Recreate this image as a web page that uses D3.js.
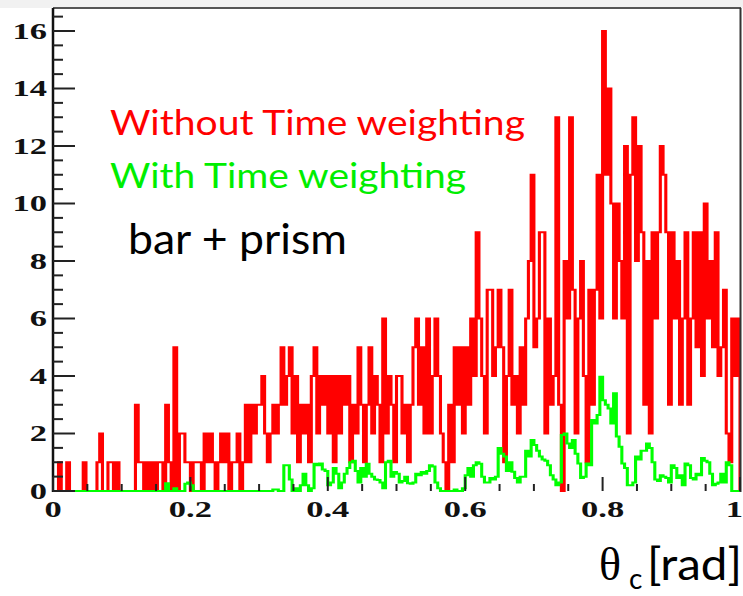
<!DOCTYPE html>
<html>
<head>
<meta charset="utf-8">
<script src="https://cdn.jsdelivr.net/npm/d3@7"></script>
<style>
  html, body { margin: 0; padding: 0; background: #ffffff; }
  svg { display: block; }
</style>
</head>
<body>
<svg id="chart" width="743" height="596"></svg>
<script>
// Cherenkov angle histograms, 250 bins over [0, 1] rad
const binCount = 250;
const xDomain = [0, 1];
const yDomain = [0, 16.8];

// Entries per bin, no time weighting
const withoutWeighting = [
  0,0,1,0,0,1,0,0,0,0,
  0,1,0,0,0,0,1,2,0,0,
  1,1,0,1,0,0,0,0,0,0,
  3,1,1,0,1,0,1,0,1,1,
  0,3,1,0,5,0,2,2,1,1,
  0,1,1,1,0,2,1,2,1,0,
  1,2,1,2,0,1,1,2,0,1,
  3,1,3,2,3,3,4,2,1,2,
  3,2,3,5,3,4,5,2,4,1,
  3,2,3,1,4,5,2,4,3,4,
  2,4,1,4,2,4,3,4,1,3,
  2,5,3,1,3,5,2,4,3,1,
  6,2,4,3,1,4,4,2,3,1,
  3,5,6,3,5,2,6,2,4,6,
  4,2,1,0,3,1,5,3,5,2,
  5,3,6,4,9,6,4,2,7,7,
  4,5,7,5,1,4,7,3,4,2,
  5,3,6,8,11,5,6,9,9,2,
  6,3,4,13,3,0,8,6,13,7,
  2,6,8,4,1,7,3,7,11,6,
  16,11,14,10,6,10,8,6,12,2,
  11,13,8,12,9,3,8,2,9,6,
  9,12,11,9,3,9,6,8,3,6,
  9,3,6,9,5,9,4,10,6,8,
  5,9,4,5,7,2,1,6,4,6
];

// Summed weights per bin, with time weighting
const withWeighting = [
  0,0,0,0,0,0,0,0,0,0,
  0,0,0,0,0,0,0,0,0,0,
  0,0,0,0,0,0,0,0,0,0,
  0,0,0,0,0,0,0,0,0,0,
  0,0.27,0,0,0.1,0,0,0,0.25,0.3,
  0.2,0,0,0,0,0,0,0,0,0,
  0,0,0,0,0,0,0,0,0,0,
  0,0,0,0,0,0,0,0,0,0,
  0.05,0.05,0,0,0.9,0.9,0.4,0,0.1,0,
  0.2,0.6,0.2,0,0.1,0.95,0.9,0.96,0.75,0.7,
  0.2,0.3,0.8,0.6,0.1,0.3,0.6,0.8,1.0,1.05,
  0.7,0.3,0.8,0.5,0.95,0.6,0.5,0.4,0.38,0.3,
  0.1,1.0,1.05,0.5,0.66,0.6,0.3,0.35,0.5,0.27,
  0.25,0.3,0.6,0.55,0.66,0.6,0.7,0.9,0.85,0.3,
  0.1,0,0,0,0,0,0.05,0,0,0.1,
  0.55,0.8,0.5,0.9,1.0,0.95,0.5,0.3,0.3,0.45,
  0.4,0.5,1.5,1.3,1.2,0.7,1.0,0.67,0.45,0.3,
  0.5,0.5,1.4,1.2,1.77,1.6,1.4,1.2,1.1,1.05,
  0.9,0.55,0.4,0.2,0.3,1.95,2.0,1.65,1.5,1.77,
  1.3,0.96,0.45,0.5,0.96,0.9,2.47,2.35,2.64,3.97,
  3.16,3.0,2.87,2.35,3.4,1.9,1.54,0.96,0.8,0.2,
  0.2,0.3,1.2,1.1,1.4,1.4,1.65,1.5,1.0,0.4,
  0.35,0.55,0.5,0.45,0.3,0.9,0.8,0.45,0.55,0.2,
  0.96,0.9,0.45,0.4,0.6,0.55,1.15,1.05,1.0,0.6,
  0.2,0.25,0.3,0.6,0.3,1.0,0.9,0,0,0
];

const yMajorTicks = [0, 2, 4, 6, 8, 10, 12, 14, 16];
const yTickLabels = ["0", "2", "4", "6", "8", "10", "12", "14", "16"];
const xMajorTicks = [0, 0.2, 0.4, 0.6, 0.8, 1];
const xTickLabels = ["0", "0.2", "0.4", "0.6", "0.8", "1"];

const legendLines = [
  { text: "Without Time weighting", color: "#ff0000" },
  { text: "With Time weighting", color: "#00ee00" },
  { text: "bar + prism", color: "#000000" }
];

// ---- layout ----
const frame = { left: 53, right: 740, top: 8, bottom: 491 };
const stretch = 1.55;   // horizontal stretch of the pad drawing
const svg = d3.select("#chart");

const x = d3.scaleLinear().domain(xDomain).range([frame.left, frame.right]);
const y = d3.scaleLinear().domain(yDomain).range([frame.bottom, frame.top]);
// same axis in the un-stretched coordinates used for the histogram lines
const xs = d3.scaleLinear().domain(xDomain).range([frame.left / stretch, frame.right / stretch]);

// light band above the pad
svg.append("rect").attr("x", 0).attr("y", 0).attr("width", 743).attr("height", frame.top)
  .attr("fill", "#f1f1f1");

svg.append("defs").append("clipPath").attr("id", "frameClip")
  .append("rect")
  .attr("x", frame.left).attr("y", frame.top - 1)
  .attr("width", frame.right - frame.left).attr("height", frame.bottom - frame.top + 2);

// ---- histograms drawn as step outlines ----
const edges = d3.range(binCount + 1).map(i => xDomain[0] + (xDomain[1] - xDomain[0]) * i / binCount);

function stepPoints(values) {
  const pts = [[edges[0], 0]];
  values.forEach((v, i) => {
    pts.push([edges[i], v]);
    pts.push([edges[i + 1], v]);
  });
  pts.push([edges[binCount], 0]);
  return pts;
}

const stepLine = d3.line().x(d => xs(d[0])).y(d => y(d[1]));

const plot = svg.append("g").attr("clip-path", "url(#frameClip)")
  .append("g").attr("transform", `scale(${stretch},1)`);

plot.append("path")
  .attr("d", stepLine(stepPoints(withoutWeighting)))
  .attr("fill", "none")
  .attr("stroke", "#ff0000")
  .attr("stroke-width", 2)
  .attr("stroke-linejoin", "miter");

plot.append("path")
  .attr("d", stepLine(stepPoints(withWeighting)))
  .attr("fill", "none")
  .attr("stroke", "#00ff00")
  .attr("stroke-width", 2)
  .attr("stroke-linejoin", "miter");

// ---- frame ----
svg.append("line")
  .attr("x1", frame.left).attr("x2", frame.right + 1)
  .attr("y1", frame.top).attr("y2", frame.top)
  .attr("stroke", "#555").attr("stroke-width", 2);
svg.append("line")
  .attr("x1", frame.right + 0.5).attr("x2", frame.right + 0.5)
  .attr("y1", frame.top).attr("y2", frame.bottom + 1)
  .attr("stroke", "#333").attr("stroke-width", 2);

// ---- y axis ----
const yAxis = svg.append("g");
yAxis.append("line")
  .attr("x1", frame.left).attr("x2", frame.left)
  .attr("y1", frame.top).attr("y2", frame.bottom + 1)
  .attr("stroke", "#111").attr("stroke-width", 2.5);

const yMinor = d3.range(0, 16.81, 0.5);
yAxis.selectAll("line.minor").data(yMinor).join("line")
  .attr("class", "minor")
  .attr("x1", frame.left).attr("x2", d => frame.left + (yMajorTicks.includes(d) ? 22 : 10))
  .attr("y1", d => y(d)).attr("y2", d => y(d))
  .attr("stroke", "#222").attr("stroke-width", 2);

yAxis.selectAll("g.ylabel").data(yMajorTicks).join("g")
  .attr("class", "ylabel")
  .attr("transform", d => `translate(47,${y(d)}) scale(1.5,1)`)
  .append("text")
  .attr("text-anchor", "end")
  .attr("dy", "0.34em")
  .attr("font-family", "'Liberation Serif', 'DejaVu Serif', serif")
  .attr("font-weight", "bold")
  .attr("font-size", 23)
  .attr("fill", "#111")
  .text((d, i) => yTickLabels[i]);

// ---- x axis ----
const xAxis = svg.append("g");
const xTicks = d3.range(0, 1.0001, 0.05).map(v => +v.toFixed(2));
xAxis.selectAll("line.xt").data(xTicks).join("line")
  .attr("class", "xt")
  .attr("x1", d => x(d)).attr("x2", d => x(d))
  .attr("y1", frame.bottom)
  .attr("y2", d => frame.bottom - (xMajorTicks.some(m => Math.abs(m - d) < 1e-6) ? 14 : 7))
  .attr("stroke", "#222").attr("stroke-width", 2);

xAxis.selectAll("g.xlabel").data(xMajorTicks).join("g")
  .attr("class", "xlabel")
  .attr("transform", d => `translate(${d === 1 ? 743 : x(d)},517) scale(1.5,1)`)
  .append("text")
  .attr("text-anchor", d => d === 1 ? "end" : "middle")
  .attr("font-family", "'Liberation Serif', 'DejaVu Serif', serif")
  .attr("font-weight", "bold")
  .attr("font-size", 23)
  .attr("fill", "#111")
  .text((d, i) => xTickLabels[i]);

// ---- legend text ----
const legendSpec = [
  { x: 110, y: 135, size: 35, len: 415 },
  { x: 110, y: 188, size: 35, len: 356 },
  { x: 128, y: 254, size: 42, len: 219 }
];
svg.selectAll("text.legend").data(legendLines).join("text")
  .attr("class", "legend")
  .attr("x", (d, i) => legendSpec[i].x)
  .attr("y", (d, i) => legendSpec[i].y)
  .attr("font-family", "Lato, 'Open Sans', sans-serif")
  .attr("font-size", (d, i) => legendSpec[i].size)
  .attr("textLength", (d, i) => legendSpec[i].len)
  .attr("lengthAdjust", "spacingAndGlyphs")
  .attr("fill", d => d.color)
  .text(d => d.text);

// ---- axis title ----
const title = svg.append("g");
title.append("text")
  .attr("x", 599).attr("y", 580)
  .attr("font-family", "'Liberation Serif', serif")
  .attr("font-size", 46)
  .attr("fill", "#000")
  .text("θ");
title.append("text")
  .attr("x", 629).attr("y", 589)
  .attr("font-family", "Lato, sans-serif")
  .attr("font-size", 28)
  .attr("fill", "#000")
  .text("c");
title.append("text")
  .attr("x", 647).attr("y", 580)
  .attr("font-family", "Lato, sans-serif")
  .attr("font-size", 44)
  .attr("textLength", 95)
  .attr("lengthAdjust", "spacingAndGlyphs")
  .attr("fill", "#000")
  .text("[rad]");
</script>
</body>
</html>
